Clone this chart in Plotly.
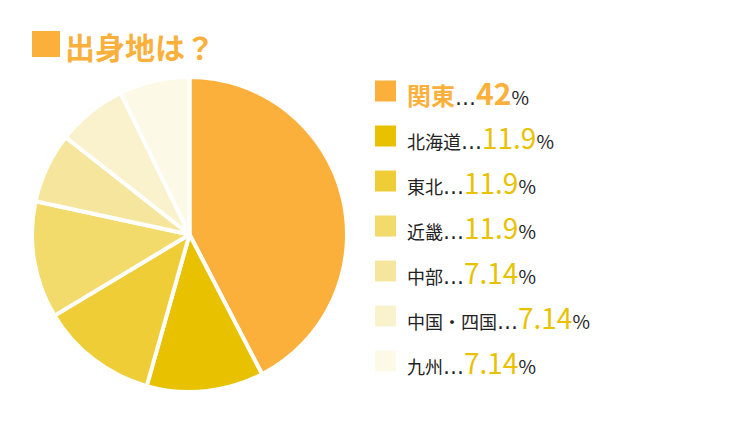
import plotly.graph_objects as go

regions = ["関東", "北海道", "東北", "近畿", "中部", "中国・四国", "九州"]
values = [42, 11.9, 11.9, 11.9, 7.14, 7.14, 7.14]
value_labels = ["42", "11.9", "11.9", "11.9", "7.14", "7.14", "7.14"]
colors = ["#FBB03B", "#E8C200", "#EECD37", "#F2DA6B", "#F6E69D", "#FAF2CC", "#FCF9E6"]
title_text = "出身地は？"

W, H = 750, 440
FONT = "Noto Sans CJK JP"
ORANGE = "#FBB03B"
YELLOW = "#E8C200"

fig = go.Figure()
fig.add_trace(go.Pie(
    labels=regions, values=values, sort=False, direction="clockwise", rotation=0,
    marker=dict(colors=colors, line=dict(color="white", width=4)),
    textinfo="none", hoverinfo="skip",
    domain=dict(x=[32 / W, 347 / W], y=[1 - 392 / H, 1 - 77 / H]),
    showlegend=False,
))

def px_x(v):
    return v / W

def px_y(v):
    return 1 - v / H

shapes = []
annotations = []
# title square + text
shapes.append(dict(type="rect", xref="paper", yref="paper",
                   x0=px_x(32), x1=px_x(60), y0=px_y(31), y1=px_y(57),
                   fillcolor=ORANGE, line=dict(width=0)))
annotations.append(dict(
    x=px_x(63), y=px_y(46), xref="paper", yref="paper", xanchor="left", yanchor="middle",
    text=f"<b>{title_text}</b>", showarrow=False,
    font=dict(family=FONT, size=30, color=ORANGE),
))

ELL = '<span style="font-family:\'DejaVu Sans\';font-size:21px">…</span>'
row0, step = 91, 45
for i, (reg, lab, col) in enumerate(zip(regions, value_labels, colors)):
    yc = row0 + step * i
    shapes.append(dict(
        type="rect", xref="paper", yref="paper",
        x0=px_x(375), x1=px_x(396), y0=px_y(yc - 10.5), y1=px_y(yc + 10.5),
        fillcolor=col, line=dict(width=0),
    ))
    if i == 0:
        txt = (f'<span style="font-size:24px;color:{ORANGE}"><b>{reg}</b></span>'
               f'{ELL}'
               f'<span style="font-size:30px;color:{ORANGE}"><b>{lab}</b></span>'
               f'<span style="font-size:19px">%</span>')
    else:
        txt = (f'<span style="font-size:18px">{reg}</span>{ELL}'
               f'<span style="font-size:28px;color:{YELLOW}">{lab}</span>'
               f'<span style="font-size:19px">%</span>')
    annotations.append(dict(
        x=px_x(405), y=px_y(yc + 1), xref="paper", yref="paper",
        xanchor="left", yanchor="middle", text=txt, showarrow=False,
        font=dict(family=FONT, size=18, color="#222222"),
    ))

fig.update_layout(
    width=W, height=H, margin=dict(l=0, r=0, t=0, b=0),
    paper_bgcolor="white", plot_bgcolor="white",
    shapes=shapes, annotations=annotations,
    font=dict(family=FONT),
)
fig.write_html("out.html", config={"displayModeBar": False},
               post_script="document.body.style.margin='0px';")
